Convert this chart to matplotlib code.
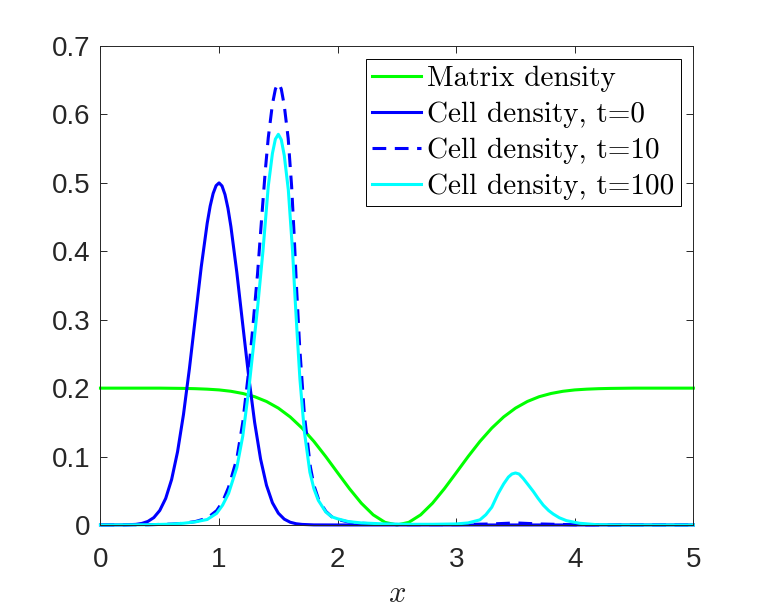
import matplotlib
matplotlib.use("Agg")
import matplotlib.pyplot as plt

# ---- data ----
matrix_x = [0.0, 0.1, 0.2, 0.3, 0.4, 0.5, 0.6, 0.7, 0.8, 0.9, 1.0, 1.1, 1.2, 1.3, 1.4, 1.5, 1.6,
            1.7, 1.8, 1.9, 2.0, 2.1, 2.2, 2.3, 2.4, 2.5, 2.6, 2.7, 2.8, 2.9, 3.0, 3.1, 3.2, 3.3,
            3.4, 3.5, 3.6, 3.7, 3.8, 3.9, 4.0, 4.1, 4.2, 4.3, 4.4, 4.5, 4.6, 4.7, 4.8, 4.9, 5.0]
matrix_y = [0.200, 0.200, 0.200, 0.200, 0.200, 0.200, 0.1998, 0.1996, 0.1992, 0.1985, 0.1974,
            0.1954, 0.1922, 0.1875, 0.1805, 0.1708, 0.1579, 0.1416, 0.1221, 0.0999, 0.0763,
            0.0530, 0.0318, 0.0148, 0.0038, 0.0, 0.0038, 0.0148, 0.0318, 0.0530, 0.0763, 0.0999,
            0.1221, 0.1416, 0.1579, 0.1708, 0.1805, 0.1875, 0.1922, 0.1954, 0.1974, 0.1985,
            0.1992, 0.1996, 0.1998, 0.200, 0.200, 0.200, 0.200, 0.200, 0.200]

t0_x = [0.0, 0.2, 0.3, 0.35, 0.4, 0.45, 0.5, 0.55, 0.6, 0.65, 0.7, 0.75, 0.8, 0.85, 0.9, 0.925,
        0.95, 0.975, 1.0, 1.025, 1.05, 1.075, 1.1, 1.15, 1.2, 1.25, 1.3, 1.35, 1.4, 1.45, 1.5,
        1.55, 1.6, 1.65, 1.7, 1.8, 2.0, 5.0]
t0_y = [0.0, 0.0001, 0.0009, 0.0023, 0.0052, 0.0108, 0.0212, 0.0388, 0.0665, 0.1070, 0.1615,
        0.2285, 0.3030, 0.3775, 0.4410, 0.4660, 0.4845, 0.4960, 0.5000, 0.4955, 0.4830, 0.4630,
        0.4360, 0.3690, 0.2925, 0.2170, 0.1500, 0.0965, 0.0580, 0.0325, 0.0172, 0.0085, 0.0040,
        0.0018, 0.0008, 0.0001, 0.0, 0.0]

t10_x = [0.0, 0.4, 0.6, 0.7, 0.8, 0.9, 0.98, 1.03, 1.08, 1.15, 1.2, 1.25, 1.28, 1.325, 1.36,
         1.39, 1.415, 1.45, 1.475, 1.49, 1.5, 1.51, 1.525, 1.55, 1.583, 1.612, 1.634, 1.654,
         1.68, 1.72, 1.77, 1.8, 1.84, 1.9, 1.95, 2.0, 2.1, 2.2, 2.4, 2.6, 3.0, 3.3, 3.5, 3.7,
         4.0, 4.3, 5.0]
t10_y = [0.0, 0.0003, 0.0013, 0.0025, 0.005, 0.010, 0.021, 0.034, 0.055, 0.097, 0.150, 0.225,
         0.280, 0.368, 0.450, 0.518, 0.566, 0.615, 0.637, 0.643, 0.645, 0.643, 0.637, 0.613,
         0.565, 0.495, 0.421, 0.345, 0.260, 0.160, 0.085, 0.058, 0.037, 0.020, 0.012, 0.008,
         0.004, 0.0025, 0.001, 0.0005, 0.0005, 0.0015, 0.003, 0.0015, 0.0003, 0.0, 0.0]

t100_x = [0.0, 0.4, 0.6, 0.7, 0.8, 0.9, 0.98, 1.03, 1.08, 1.15, 1.2, 1.25, 1.28, 1.325, 1.37,
          1.415, 1.45, 1.475, 1.5, 1.525, 1.55, 1.584, 1.62, 1.64, 1.66, 1.682, 1.719, 1.766,
          1.8, 1.837, 1.9, 1.95, 2.0, 2.09, 2.2, 2.4, 2.6, 2.8, 3.0, 3.1, 3.2, 3.25, 3.3, 3.354,
          3.4, 3.44, 3.47, 3.5, 3.53, 3.565, 3.61, 3.65, 3.69, 3.734, 3.78, 3.818, 3.87, 3.93,
          4.04, 4.18, 4.4, 5.0]
t100_y = [0.0, 0.0003, 0.0013, 0.0025, 0.0045, 0.008, 0.017, 0.029, 0.046, 0.084, 0.130, 0.197,
          0.245, 0.318, 0.400, 0.495, 0.543, 0.564, 0.571, 0.563, 0.540, 0.490, 0.400, 0.335,
          0.275, 0.213, 0.137, 0.077, 0.053, 0.036, 0.019, 0.012, 0.009, 0.005, 0.003, 0.0015,
          0.001, 0.001, 0.0015, 0.003, 0.0075, 0.015, 0.026, 0.046, 0.060, 0.070, 0.0745, 0.076,
          0.0745, 0.068, 0.058, 0.049, 0.039, 0.029, 0.021, 0.016, 0.0105, 0.0063, 0.0025,
          0.0005, 0.0, 0.0]

series_labels = ["Matrix density", "Cell density, t=0", "Cell density, t=10", "Cell density, t=100"]
xticks = [0, 1, 2, 3, 4, 5]
xtick_labels = ["0", "1", "2", "3", "4", "5"]
yticks = [0, 0.1, 0.2, 0.3, 0.4, 0.5, 0.6, 0.7]
ytick_labels = ["0", "0.1", "0.2", "0.3", "0.4", "0.5", "0.6", "0.7"]

plt.rcParams["mathtext.fontset"] = "cm"
plt.rcParams["font.family"] = ["Liberation Sans", "DejaVu Sans"]

fig = plt.figure(figsize=(7.67, 6.14), dpi=100)
ax = fig.add_axes([0.131, 0.145, 0.773, 0.780])

lw = 2.2
ax.plot(matrix_x, matrix_y, color="#00ff00", lw=lw, label=series_labels[0], clip_on=False)
ax.plot(t0_x, t0_y, color="#0000ff", lw=lw, label=series_labels[1], clip_on=False)
ax.plot(t10_x, t10_y, color="#0000ff", lw=lw, ls=(0, (4.5, 2.8)), label=series_labels[2], clip_on=False)
ax.plot(t100_x, t100_y, color="#00ffff", lw=lw, label=series_labels[3], clip_on=False)

ax.set_xlim(0, 5)
ax.set_ylim(0, 0.7)
ax.set_xticks(xticks)
ax.set_xticklabels(xtick_labels)
ax.set_yticks(yticks)
ax.set_yticklabels(ytick_labels)
ax.tick_params(direction="in", top=True, right=True, length=5, width=0.7,
               colors="#262626", labelsize=20)
ax.tick_params(axis="x", pad=16)
ax.tick_params(axis="y", pad=7)
for s in ax.spines.values():
    s.set_color("#262626")
    s.set_linewidth(0.7)

ax.set_xlabel("$x$", fontsize=22, labelpad=4, color="#262626")

leg = ax.legend(loc="upper right", bbox_to_anchor=(0.979, 0.972), borderaxespad=0,
                prop={"family": "cmr10", "size": 21}, fancybox=False, framealpha=1,
                edgecolor="black", handlelength=1.68, handletextpad=0.2,
                labelspacing=0.32, borderpad=0.22)
leg.get_frame().set_linewidth(0.7)

fig.savefig("out.png", dpi=100)
